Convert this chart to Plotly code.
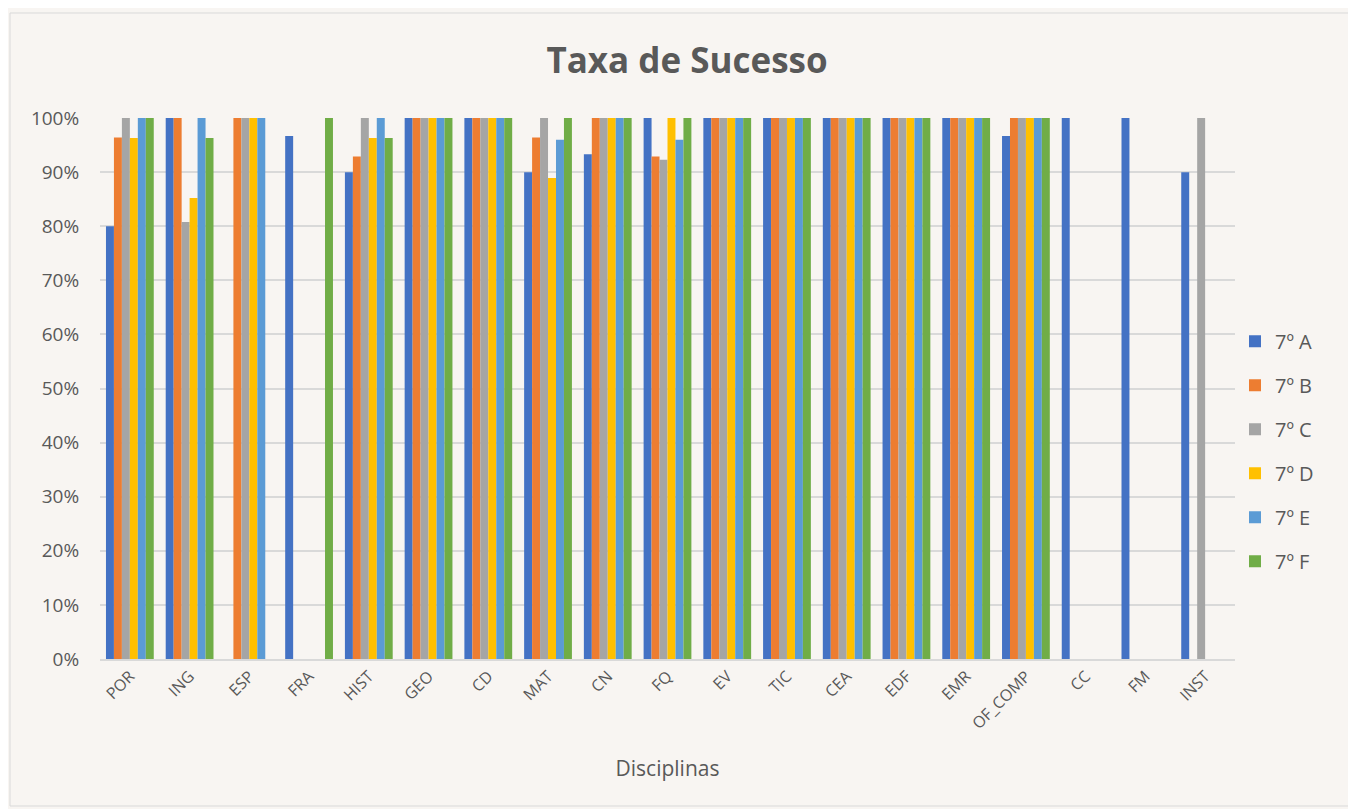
import plotly.graph_objects as go

categories = ["POR", "ING", "ESP", "FRA", "HIST", "GEO", "CD", "MAT", "CN", "FQ",
              "EV", "TIC", "CEA", "EDF", "EMR", "OF_COMP", "CC", "FM", "INST"]

series_names = ["7º A", "7º B", "7º C", "7º D", "7º E", "7º F"]

s_7A = [0.80, 1.00, None, 0.967, 0.90, 1.00, 1.00, 0.90, 0.933, 1.00,
        1.00, 1.00, 1.00, 1.00, 1.00, 0.967, 1.00, 1.00, 0.90]
s_7B = [0.964, 1.00, 1.00, None, 0.929, 1.00, 1.00, 0.964, 1.00, 0.929,
        1.00, 1.00, 1.00, 1.00, 1.00, 1.00, None, None, None]
s_7C = [1.00, 0.808, 1.00, None, 1.00, 1.00, 1.00, 1.00, 1.00, 0.923,
        1.00, 1.00, 1.00, 1.00, 1.00, 1.00, None, None, 1.00]
s_7D = [0.963, 0.852, 1.00, None, 0.963, 1.00, 1.00, 0.889, 1.00, 1.00,
        1.00, 1.00, 1.00, 1.00, 1.00, 1.00, None, None, None]
s_7E = [1.00, 1.00, 1.00, None, 1.00, 1.00, 1.00, 0.96, 1.00, 0.96,
        1.00, 1.00, 1.00, 1.00, 1.00, 1.00, None, None, None]
s_7F = [1.00, 0.963, None, 1.00, 0.963, 1.00, 1.00, 1.00, 1.00, 1.00,
        1.00, 1.00, 1.00, 1.00, 1.00, 1.00, None, None, None]

colors = ["#4472C4", "#ED7D31", "#A5A5A5", "#FFC000", "#5B9BD5", "#70AD47"]

all_series = [s_7A, s_7B, s_7C, s_7D, s_7E, s_7F]

fig = go.Figure()
for name, vals, col in zip(series_names, all_series, colors):
    fig.add_trace(go.Bar(
        x=categories, y=vals, name=name, legendgroup=name,
        marker=dict(color=col, line=dict(width=0)),
    ))

bg = "#F8F5F2"
txt = "#595959"
font_family = "Open Sans, Liberation Sans, sans-serif"

# page body has an 8px margin: figure is placed at (8, 8)
W, H = 1348, 801
L, T = 92, 110
PW, PH = 1135, 541

fig.update_layout(
    width=W, height=H,
    paper_bgcolor=bg, plot_bgcolor=bg,
    barmode="group", bargap=0.2, bargroupgap=0,
    margin=dict(l=L, r=W - L - PW, t=T, b=H - T - PH),
    font=dict(family=font_family, color=txt, size=13),
    title=dict(text="<b>Taxa de Sucesso</b>", x=(687 - 100) / PW, xref="paper", xanchor="center",
               y=1 - (61 - 8) / H, yref="container", yanchor="middle",
               font=dict(size=35, color=txt, family=font_family)),
    legend=dict(x=1.0, y=0.384, xanchor="left", yanchor="middle",
                font=dict(size=20, color=txt), tracegroupgap=15,
                bgcolor="rgba(0,0,0,0)"),
    xaxis=dict(
        tickangle=-45, tickfont=dict(size=16, color=txt),
        showline=True, linecolor="#D9D9D9", linewidth=1.5,
        title=dict(text="Disciplinas", font=dict(size=21, color=txt), standoff=29),
        showgrid=False, ticks="",
    ),
    yaxis=dict(
        range=[0, 1.0001], tickformat=".0%", dtick=0.1,
        tickfont=dict(size=19, color=txt),
        showgrid=True, gridcolor="#D9D9D9", gridwidth=1.5,
        zeroline=False, ticks="outside", ticklen=16, tickcolor="rgba(0,0,0,0)",
    ),
    shapes=[dict(type="rect", xref="paper", yref="paper",
                 x0=(10 - 100) / PW, x1=(1351 - 100) / PW,
                 y0=(659 - 806) / PH, y1=(659 - 13) / PH,
                 line=dict(color="#D9D9D9", width=1), fillcolor="rgba(0,0,0,0)",
                 layer="below")],
)

fig.write_html("out.html")
